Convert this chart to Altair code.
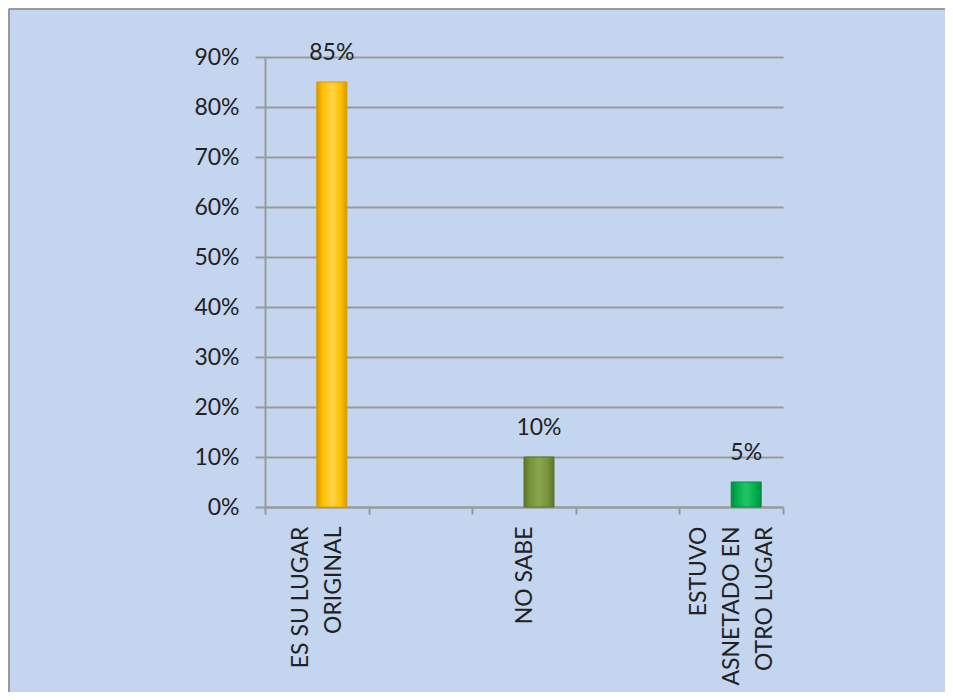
import altair as alt
import pandas as pd

categories = ["ES SU LUGAR ORIGINAL", " ", "NO SABE", "  ", "ESTUVO ASNETADO EN OTRO LUGAR"]
values = [0.85, None, 0.10, None, 0.05]
labels = ["85%", "", "10%", "", "5%"]
colors = ["#FFC000", "#FFFFFF", "#77933C", "#FFFFFF", "#00B050"]
edge_colors = ["#D99A00", "#FFFFFF", "#5C7529", "#FFFFFF", "#008C3E"]
light_colors = ["#FFD24A", "#FFFFFF", "#88A64C", "#FFFFFF", "#25C466"]

df = pd.DataFrame({"cat": categories, "val": values, "lab": labels,
                   "col": colors, "edge": edge_colors, "light": light_colors})
bars_df = df.dropna()

FONT = "Lato"
LH = 33
label_expr = (
    "datum.value == 'ES SU LUGAR ORIGINAL' ? ['ES SU LUGAR','ORIGINAL'] : "
    "datum.value == 'ESTUVO ASNETADO EN OTRO LUGAR' ? ['ESTUVO','ASNETADO EN','OTRO LUGAR'] : "
    "datum.value"
)

x_axis = alt.Axis(
    title=None,
    labelAngle=-90,
    labelAlign="right",
    labelBaseline="middle",
    labelExpr=label_expr,
    labelFont=FONT,
    labelFontSize=23,
    labelColor="#222222",
    labelPadding=12,
    labelLineHeight=LH,
    labelOffset={
        "condition": [
            {"test": "datum.value == 'ES SU LUGAR ORIGINAL'", "value": -LH / 2},
            {"test": "datum.value == 'ESTUVO ASNETADO EN OTRO LUGAR'", "value": -LH},
        ],
        "value": 0,
    },
    tickBand="extent",
    tickSize=7,
    tickColor="#999999",
    domainColor="#999999",
    domainWidth=2,
    tickWidth=2,
    grid=False,
)
x_scale = alt.Scale(domain=categories, paddingInner=0, paddingOuter=0)

y_scale = alt.Scale(domain=[0, 0.9], nice=False)
y_axis = alt.Axis(
    title=None,
    format=".0%",
    values=[0, 0.1, 0.2, 0.3, 0.4, 0.5, 0.6, 0.7, 0.8, 0.9],
    labelFont=FONT,
    labelFontSize=23,
    labelColor="#222222",
    labelPadding=16,
    tickSize=10,
    tickColor="#999999",
    tickWidth=2,
    domainColor="#999999",
    domainWidth=2,
    gridColor="#999999",
    gridWidth=2,
)

# axes + grid carrier (invisible bars)
axes = alt.Chart(bars_df).mark_bar(opacity=0, width=30, xOffset=15).encode(
    x=alt.X("cat:N", sort=categories, scale=x_scale, axis=x_axis),
    y=alt.Y("val:Q", scale=y_scale, axis=y_axis),
)

# bars with a bevel-like horizontal gradient, one layer per bar colour
bar_layers = []
for _, row in bars_df.iterrows():
    grad = alt.Gradient(
        gradient="linear", x1=0, x2=1, y1=0, y2=0,
        stops=[
            alt.GradientStop(color=row["edge"], offset=0),
            alt.GradientStop(color=row["col"], offset=0.2),
            alt.GradientStop(color=row["light"], offset=0.5),
            alt.GradientStop(color=row["col"], offset=0.8),
            alt.GradientStop(color=row["edge"], offset=1),
        ],
    )
    bar_layers.append(
        alt.Chart(bars_df)
        .transform_filter(alt.datum.cat == row["cat"])
        .mark_bar(width=30, xOffset=15, color=grad, stroke=row["edge"], strokeWidth=1)
        .encode(
            x=alt.X("cat:N", sort=categories, scale=x_scale, axis=x_axis),
            y=alt.Y("val:Q", scale=y_scale, axis=y_axis),
        )
    )

text = alt.Chart(bars_df).mark_text(
    xOffset=15, dy=-17, baseline="bottom", font=FONT, fontSize=23, color="#222222"
).encode(
    x=alt.X("cat:N", sort=categories),
    y=alt.Y("val:Q", scale=y_scale),
    text="lab:N",
)

# outer chart frame (decoration: top and left edges)
frame_df = pd.DataFrame({"k": [0]})
frame_left = alt.Chart(frame_df).mark_rule(color="#999999", strokeWidth=2).encode(
    x=alt.value(-256), y=alt.value(-48), y2=alt.value(700)
)
frame_top = alt.Chart(frame_df).mark_rule(color="#999999", strokeWidth=2).encode(
    x=alt.value(-256), x2=alt.value(700), y=alt.value(-48)
)

chart = (
    alt.layer(frame_left, frame_top, axes, *bar_layers, text)
    .properties(
        width=518,
        height=450,
        autosize=alt.AutoSizeParams(type="none"),
        padding={"left": 257, "top": 49, "right": 162, "bottom": 185},
        background="#c4d6ef",
    )
    .configure_view(stroke=None)
)

chart.save("out.html", embed_options={"renderer": "svg", "actions": False})
